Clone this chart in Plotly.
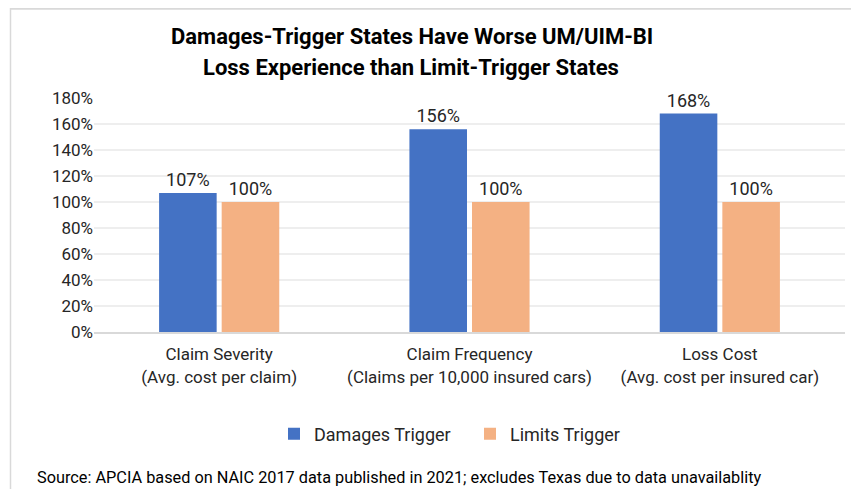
import plotly.graph_objects as go

categories = ["Claim Severity<br>(Avg. cost per claim)",
              "Claim Frequency<br>(Claims per 10,000 insured cars)",
              "Loss Cost<br>(Avg. cost per insured car)"]
damages = [107, 156, 168]
limits = [100, 100, 100]
series_names = ["Damages Trigger", "Limits Trigger"]
colors = ["#4472C4", "#F4B183"]

OFF = 8  # page body margin offset
W, H = 859 - OFF, 489 - OFF
L, R, T, B = 94 - OFF, 14, 98 - OFF, 157
pw, ph = W - L - R, H - T - B


def px(x):
    # reference screen x -> paper
    return (x - OFF - L) / pw


def py(y):
    # reference screen y -> paper
    return (H - B - (y - OFF)) / ph


FONT = "Roboto, Arial, sans-serif"
TXT = "#262626"

fig = go.Figure()
for name, vals, c in zip(series_names, [damages, limits], colors):
    fig.add_trace(go.Bar(
        x=categories, y=vals, name=name, marker=dict(color=c, line=dict(width=0)),
        text=[f"{v}%" for v in vals], textposition="outside",
        textfont=dict(size=18, color=TXT, family=FONT),
        cliponaxis=False,
    ))

fig.update_layout(
    width=W, height=H,
    margin=dict(l=L, r=R, t=T, b=B),
    paper_bgcolor="white", plot_bgcolor="white",
    barmode="group", bargap=0.5, bargroupgap=0.08,
    font=dict(family=FONT, size=17, color=TXT),
    showlegend=True,
    legend=dict(orientation="h", x=px(470), xanchor="center", y=py(434), yanchor="middle",
                font=dict(size=18, color=TXT, family=FONT), itemwidth=30,
                traceorder="normal", entrywidth=151),
    xaxis=dict(showline=True, linecolor="#D9D9D9", linewidth=2, ticks="",
               ticklabelstandoff=6,
               tickfont=dict(size=17, color=TXT, family=FONT)),
    yaxis=dict(range=[0, 180], dtick=20, ticksuffix="%", showgrid=True, gridcolor="#EEEEEE",
               gridwidth=1.5, zeroline=False, showline=False,
               tickfont=dict(size=17, color=TXT, family=FONT)),
    annotations=[
        dict(text="<b>Damages-Trigger States Have Worse UM/UIM-BI</b>", x=px(412), y=py(36),
             xref="paper", yref="paper", showarrow=False, xanchor="center", yanchor="middle",
             font=dict(size=22, color="#000000", family=FONT)),
        dict(text="<b>Loss Experience than Limit-Trigger States</b>", x=px(411), y=py(67),
             xref="paper", yref="paper", showarrow=False, xanchor="center", yanchor="middle",
             font=dict(size=22, color="#000000", family=FONT)),
        dict(text="Source: APCIA based on NAIC 2017 data published in 2021; excludes Texas due to data unavailablity",
             x=px(35), y=py(477), xref="paper", yref="paper", showarrow=False,
             xanchor="left", yanchor="middle", font=dict(size=16.3, color="#000000", family=FONT)),
    ],
    shapes=[
        dict(type="line", xref="paper", yref="paper", x0=px(10.5), x1=px(10.5), y0=py(8), y1=py(489),
             line=dict(color="#D9D9D9", width=1.5)),
        dict(type="line", xref="paper", yref="paper", x0=px(10), x1=px(859), y0=py(8.75), y1=py(8.75),
             line=dict(color="#D9D9D9", width=2)),
    ],
)

fig.write_html("out.html")
